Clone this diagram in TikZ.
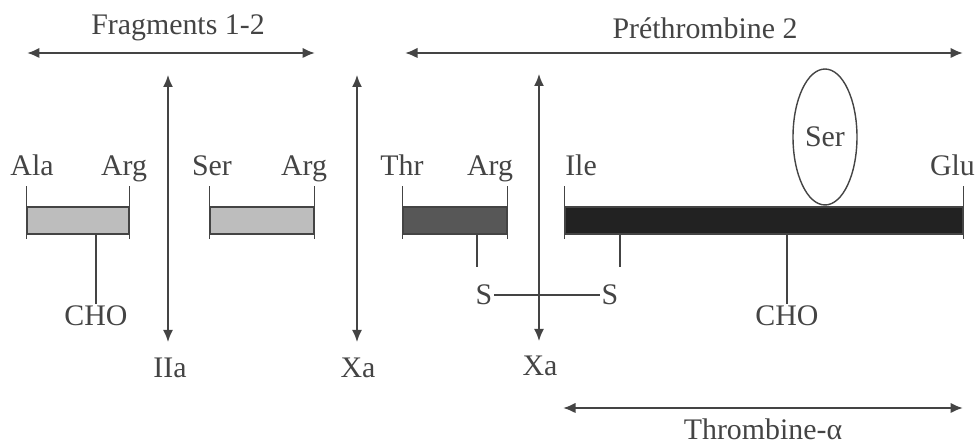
\documentclass[tikz,border=0pt]{standalone}
\usepackage{fontspec}
\setmainfont{Liberation Serif}
\usetikzlibrary{arrows.meta,shapes.geometric}
\definecolor{ink}{HTML}{444444}
\definecolor{lightbar}{HTML}{BDBDBD}
\definecolor{midbar}{HTML}{575757}
\definecolor{darkbar}{HTML}{222222}
\tikzset{
  lbl/.style={text=ink, font=\fontsize{17}{20}\selectfont, inner sep=1pt},
  res/.style={lbl, anchor=base},
  bar/.style={draw=ink, line width=0.8pt, minimum height=0.54cm, inner sep=0pt},
  tick/.style={draw=ink, line width=0.8pt},
  span/.style={draw=ink, line width=1.2pt, {Latex[length=2.5mm,width=2.1mm]}-{Latex[length=2.5mm,width=2.1mm]}},
  cut/.style={draw=ink, line width=0.9pt, {Latex[length=2.4mm,width=2mm]}-{Latex[length=2.4mm,width=2mm]}},
}
\begin{document}
\begin{tikzpicture}[x=0.02cm, y=-0.02cm]
            \useasboundingbox (0,0) rectangle (978,445);
            % spans
            \node[lbl] (frag) at (178,28) {Fragments 1-2};
            \coordinate (fragL) at (27,53);
            \coordinate (fragR) at (315,53);
            \draw[span] (fragL) -- (fragR);
            \node[lbl] (pre) at (705,28) {Préthrombine 2};
            \coordinate (preL) at (405,53);
            \coordinate (preR) at (963,53);
            \draw[span] (preL) -- (preR);
            \node[res] (thr) at (763,440) {Thrombine-α};
            \coordinate (thrL) at (563,408);
            \coordinate (thrR) at (963,408);
            \draw[span] (thrL) -- (thrR);
            % cleavage sites
            \node[res] (iia) at (170,378) {IIa};
            \node[res] (xa1) at (358,378) {Xa};
            \node[res] (xa2) at (540,376) {Xa};
            \coordinate (c1t) at (168,75);
            \coordinate (c1b) at (168,342);
            \coordinate (c2t) at (357,75);
            \coordinate (c2b) at (357,342);
            \coordinate (c3t) at (539,74);
            \coordinate (c3b) at (539,341);
            \draw[cut] (c1t) -- (c1b);
            \draw[cut] (c2t) -- (c2b);
            \draw[cut] (c3t) -- (c3b);
            % chains
            \node[bar, fill=lightbar, minimum width=2.04cm] (b1) at (78,220.5) {};
            \node[bar, fill=lightbar, minimum width=2.08cm] (b2) at (262,220.5) {};
            \node[bar, fill=midbar, minimum width=2.08cm] (b3) at (455,220.5) {};
            \node[bar, fill=darkbar, minimum width=7.96cm] (b4) at (764,220.5) {};
            \foreach \b in {b1,b2,b3,b4}{
              \draw[tick] (\b.south west) ++(0,4) -- ++(0,-53);
              \draw[tick] (\b.south east) ++(0,4) -- ++(0,-53);
            }
            \node[res] (ala) at (32,176) {Ala};
            \node[res] (arg1) at (124,176) {Arg};
            \node[res] (ser1) at (212,176) {Ser};
            \node[res] (arg2) at (304,176) {Arg};
            \node[res] (thr1) at (402,176) {Thr};
            \node[res] (arg3) at (490,176) {Arg};
            \node[res] (ile) at (581,176) {Ile};
            \node[res, anchor=base east] (glu) at (977,176) {Glu};
            \node[lbl, draw=ink, line width=0.8pt, ellipse, minimum width=1.28cm, minimum height=2.72cm] (ser2) at (825,137) {Ser};
            % side groups
            \node[lbl] (cho1) at (96,316) {CHO};
            \node[lbl] (cho2) at (787,316) {CHO};
            \node[lbl] (sL) at (484,295) {S};
            \node[lbl] (sR) at (610,295) {S};
            \coordinate (ch1) at (b1.south -| cho1);
            \coordinate (ch2) at (b4.south -| cho2);
            \draw[tick] (ch1) -- (cho1.north);
            \draw[tick] (ch2) -- (cho2.north);
            \coordinate (s1) at (477,234);
            \coordinate (s1b) at (477,267);
            \coordinate (s2) at (620,234);
            \coordinate (s2b) at (620,267);
            \draw[tick] (s1) -- (s1b);
            \draw[tick] (s2) -- (s2b);
            \draw[tick] (sL.east) -- (sR.west);
        \end{tikzpicture}
\end{document}
